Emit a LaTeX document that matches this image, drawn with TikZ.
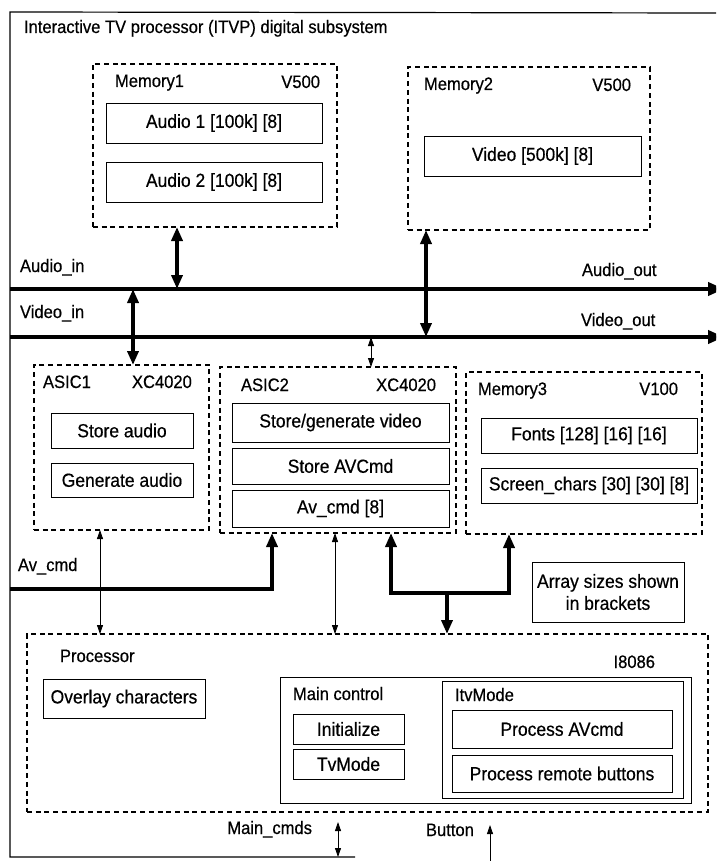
\documentclass[tikz,border=0pt]{standalone}
\usepackage{fontspec}
\setmainfont[FakeStretch=0.92,FakeBold=0.5]{Liberation Sans}
\usetikzlibrary{arrows.meta,fit}

\begin{document}
\begin{tikzpicture}[x=1pt,y=-1pt,
  every node/.style={inner sep=0pt, outer sep=0pt},
  lbl/.style={font=\fontsize{18}{20}\selectfont, anchor=base west},
  lblr/.style={lbl, anchor=base east},
  sbox/.style={draw, line width=0.9pt, font=\fontsize{19}{22}\selectfont, align=center},
  dbox/.style={draw, line width=1.9pt, dash pattern=on 5pt off 3.7pt},
  bus/.style={line width=4pt, -{Triangle[length=16pt,width=13pt]}},
  fat/.style={line width=3.6pt, line join=miter},
  fatdbl/.style={fat, {Triangle[length=14pt,width=11pt]}-{Triangle[length=14pt,width=11pt]}},
  fatend/.style={fat, -{Triangle[length=14pt,width=11pt]}},
  thinline/.style={line width=0.8pt},
  thindbl/.style={thinline, {Triangle[length=9pt,width=6pt]}-{Triangle[length=9pt,width=6pt]}},
  thinend/.style={thinline, -{Triangle[length=9pt,width=6pt]}},
]
\useasboundingbox (0,0) rectangle (716,861);
\clip (0,0) rectangle (716,861);

% outer subsystem frame
\draw[line width=1.2pt] (355,857) -- (10,857) -- (10,12) -- (716,13);
\node[lbl] (title) at (24,33) {Interactive TV processor (ITVP) digital subsystem};

% Memory1
\node[dbox, fit={(93,64) (337,227)}] (mem1) {};
\node[lbl] (mem1n) at (115,87) {Memory1};
\node[lblr] (mem1t) at (320,88) {V500};
\node[sbox, minimum width=216, minimum height=40] (aud1) at (214,123) {Audio 1 [100k] [8]};
\node[sbox, minimum width=216, minimum height=40] (aud2) at (214,182) {Audio 2 [100k] [8]};

% Memory2
\node[dbox, fit={(408,67) (650,230)}] (mem2) {};
\node[lbl] (mem2n) at (424,90) {Memory2};
\node[lblr] (mem2t) at (631,91) {V500};
\node[sbox, minimum width=217, minimum height=40] (vid) at (532.5,156) {Video [500k] [8]};

% audio and video buses
\coordinate (ain) at (10,289);
\coordinate (aout) at (724,289);
\coordinate (vin) at (10,337);
\coordinate (vout) at (724,337);
\draw[bus] (ain) -- (aout);
\draw[bus] (vin) -- (vout);
\node[lbl] (ainl) at (20,272) {Audio\_in};
\node[lbl] (aoutl) at (582,276) {Audio\_out};
\node[lbl] (vinl) at (20,318) {Video\_in};
\node[lbl] (voutl) at (581,326) {Video\_out};

% ASIC1
\node[dbox, fit={(34,365) (209,530)}] (asic1) {};
\node[lbl] (asic1n) at (43,388) {ASIC1};
\node[lbl] (asic1t) at (132,388) {XC4020};
\node[sbox, minimum width=142, minimum height=35] (stau) at (122,430.5) {Store audio};
\node[sbox, minimum width=142, minimum height=34] (geau) at (122,480) {Generate audio};

% ASIC2
\node[dbox, fit={(220,367) (456,533)}] (asic2) {};
\node[lbl] (asic2n) at (241,391) {ASIC2};
\node[lblr] (asic2t) at (436,391) {XC4020};
\node[sbox, minimum width=217, minimum height=39] (sgv) at (340.5,422.5) {Store/generate video};
\node[sbox, minimum width=217, minimum height=36] (sav) at (340.5,466) {Store AVCmd};
\node[sbox, minimum width=217, minimum height=37] (avc) at (340.5,508.5) {Av\_cmd [8]};

% Memory3
\node[dbox, fit={(466,372) (702,534)}] (mem3) {};
\node[lbl] (mem3n) at (478,395) {Memory3};
\node[lblr] (mem3t) at (678,395) {V100};
\node[sbox, minimum width=216, minimum height=35] (fonts) at (589,435.5) {Fonts [128] [16] [16]};
\node[sbox, minimum width=216, minimum height=35] (schars) at (589,485.5) {Screen\_chars [30] [30] [8]};

% note
\node[sbox, minimum width=152, minimum height=60] (note) at (608,592) {Array sizes shown\\in brackets};

% Processor
\node[dbox, fit={(27,634) (708,812)}] (proc) {};
\node[lbl] (procn) at (60,662) {Processor};
\node[lblr] (proct) at (655,668) {I8086};
\node[sbox, minimum width=162, minimum height=39] (ovl) at (124,698.5) {Overlay characters};
\node[draw, line width=0.9pt, fit={(280,677) (691,803)}] (mainc) {};
\node[lbl] (maincn) at (293,700) {Main control};
\node[sbox, minimum width=111, minimum height=30] (init) at (348.5,729) {Initialize};
\node[sbox, minimum width=111, minimum height=30] (tvm) at (348.5,764) {TvMode};
\node[draw, line width=0.9pt, fit={(442,681) (683,798)}] (itv) {};
\node[lbl] (itvn) at (455,701) {ItvMode};
\node[sbox, minimum width=220, minimum height=38] (pav) at (562,729) {Process AVcmd};
\node[sbox, minimum width=220, minimum height=37] (prb) at (562,773.5) {Process remote buttons};

% bus connections
\draw[fatdbl] (177,0 |- mem1.south) -- (177,0 |- ain);
\draw[fatdbl] (133,0 |- ain) -- (133,0 |- asic1.north);
\draw[fatdbl] (426,0 |- mem2.south) -- (426,0 |- vin);
\draw[thindbl] (371,0 |- vin) -- (371,0 |- asic2.north);

% Av_cmd input
\coordinate (avin) at (10,589);
\node[lbl] (avinl) at (18,571) {Av\_cmd};
\draw[fatend] (avin) -- (272,0 |- avin) -- (272,0 |- asic2.south);

% processor links
\draw[thindbl] (100,0 |- asic1.south) -- (100,0 |- proc.north);
\draw[thindbl] (335,0 |- asic2.south) -- (335,0 |- proc.north);
\coordinate (tj) at (447,593);
\draw[fat, {Triangle[length=14pt,width=11pt]}-{Triangle[length=14pt,width=11pt]}]
  (391,0 |- asic2.south) -- (391,0 |- tj) -- (509,0 |- tj) -- (509,0 |- mem3.south);
\draw[fatend] (tj) -- (tj |- proc.north);

% external commands
\coordinate (mctop) at (338,822);
\coordinate (mcbot) at (338,857);
\draw[thindbl] (mctop) -- (mcbot);
\node[lblr] (mcl) at (312,834) {Main\_cmds};
\coordinate (bttop) at (490,825);
\coordinate (btbot) at (490,861);
\draw[thinend] (btbot) -- (bttop);
\node[lbl] (btl) at (426,836) {Button};
\end{tikzpicture}
\end{document}
